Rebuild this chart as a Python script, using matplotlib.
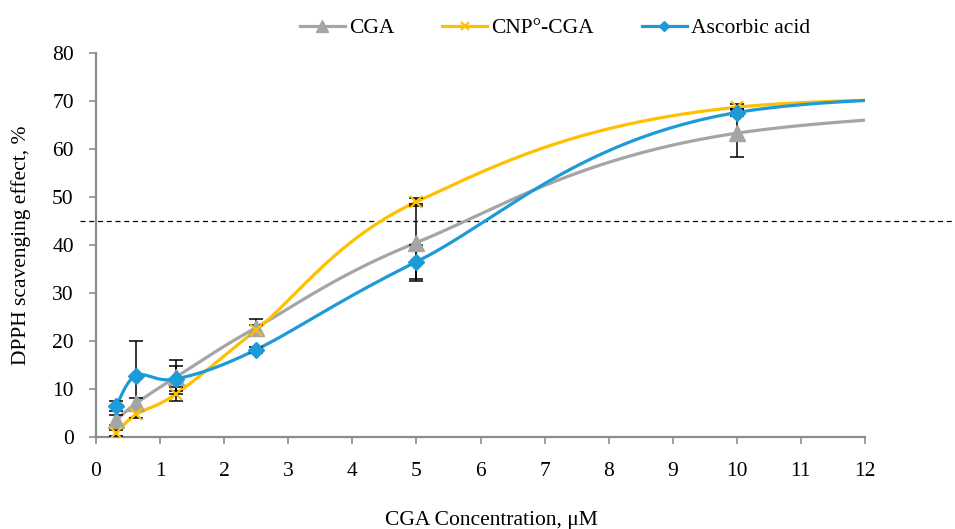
"""DPPH scavenging effect vs CGA concentration, three series with smoothed curves."""

import matplotlib

matplotlib.use("Agg")
import matplotlib.pyplot as plt  # noqa: E402
import numpy as np  # noqa: E402

conc = [0.3125, 0.625, 1.25, 2.5, 5, 10]

cga = [3.5, 7.0, 12.5, 22.8, 40.5, 63.3]
cga_err = [1.0, 1.2, 3.5, 1.7, 8.0, 5.0]

cnp_cga = [0.8, 4.7, 9.0, 22.3, 49.0, 68.7]
cnp_cga_err = [0.6, 0.8, 1.5, 1.0, 0.8, 0.6]

ascorbic = [6.4, 12.8, 12.1, 18.2, 36.5, 67.6]
ascorbic_err = [1.0, 7.2, 2.6, 0.6, 3.5, 0.8]

# highest concentration lies past the x-axis limit; only its curve shows
far_conc = 20
cga_far = 70.5
cnp_cga_far = 69.5
ascorbic_far = 70.3

threshold = 45

GRAY = "#A5A5A5"
GOLD = "#FFC000"
BLUE = "#1E9BD7"
AXIS = "#8C8C8C"
FS = 15.5


def smooth(xs, ys, n=60):
    """Catmull-Rom style Bezier through the points (spreadsheet smoothed line)."""
    p = np.column_stack([xs, ys]).astype(float)
    ext = np.vstack([p[0], p, p[-1]])
    out = []
    t = np.linspace(0, 1, n)[:, None]
    for i in range(1, len(ext) - 2):
        p0, p1, p2, p3 = ext[i - 1], ext[i], ext[i + 1], ext[i + 2]
        c1 = p1 + (p2 - p0) / 6
        c2 = p2 - (p3 - p1) / 6
        seg = ((1 - t) ** 3) * p1 + 3 * ((1 - t) ** 2) * t * c1 \
            + 3 * (1 - t) * t ** 2 * c2 + t ** 3 * p2
        out.append(seg if i == 1 else seg[1:])
    s = np.vstack(out)
    return s[:, 0], s[:, 1]


plt.rcParams["font.family"] = ["Liberation Serif", "DejaVu Serif"]

fig = plt.figure(figsize=(9.55, 5.29), dpi=100)
ax = fig.add_axes([96 / 955, 1 - 437 / 529, 769 / 955, 384 / 529])

series = [
    ("CGA", cga, cga_err, cga_far, GRAY, "^", 11.5, {}),
    ("CNP°-CGA", cnp_cga, cnp_cga_err, cnp_cga_far, GOLD, "x", 9, {"mew": 1.5}),
    ("Ascorbic acid", ascorbic, ascorbic_err, ascorbic_far, BLUE, "D", 8, {}),
]

handles = []
for k, (name, ys, err, far, color, mk, ms, extra) in enumerate(series):
    sx, sy = smooth(conc + [far_conc], ys + [far])
    ax.plot(sx, sy, color=color, lw=2.3, zorder=2 + k, solid_capstyle="round")
    ax.errorbar(conc, ys, yerr=err, fmt="none", ecolor="black", elinewidth=1.1,
                capsize=5, capthick=1.1, zorder=5)
    ax.plot(conc, ys, ls="none", marker=mk, ms=ms, color=color, zorder=6 + k, **extra)
    h, = ax.plot([], [], color=color, lw=2.3, marker=mk, ms=ms * 0.7, **extra)
    handles.append(h)

ax.axhline(threshold, xmin=-16 / 769, xmax=(955 - 96) / 769, color="black",
           lw=0.9, ls=(0, (4, 3)), clip_on=False, zorder=1)

ax.set_xlim(0, 12)
ax.set_ylim(0, 80)
ax.set_xticks(range(0, 13))
ax.set_yticks(range(0, 81, 10))
for side in ("top", "right"):
    ax.spines[side].set_visible(False)
for side in ("left", "bottom"):
    ax.spines[side].set_color(AXIS)
    ax.spines[side].set_linewidth(1.6)
ax.tick_params(axis="both", colors=AXIS, width=1.2, length=5, direction="out",
               labelsize=FS, labelcolor="black")
ax.tick_params(axis="x", pad=13)
ax.tick_params(axis="y", pad=11)

ax.set_xlabel("CGA Concentration, μM", fontsize=FS, va="center")
ax.xaxis.set_label_coords((491 - 96) / 769, -(521 - 437) / 384)
ax.set_ylabel("DPPH scavenging effect, %", fontsize=FS, va="center")
ax.yaxis.set_label_coords(-(96 - 21) / 769, 0.5)

fig.legend(handles, [s[0] for s in series], loc="center", ncol=3,
           bbox_to_anchor=(555 / 955, 1 - 28 / 529), frameon=False, fontsize=FS,
           handlelength=2.1, columnspacing=2.2, handletextpad=0.2)

fig.savefig("out.png", dpi=100)
